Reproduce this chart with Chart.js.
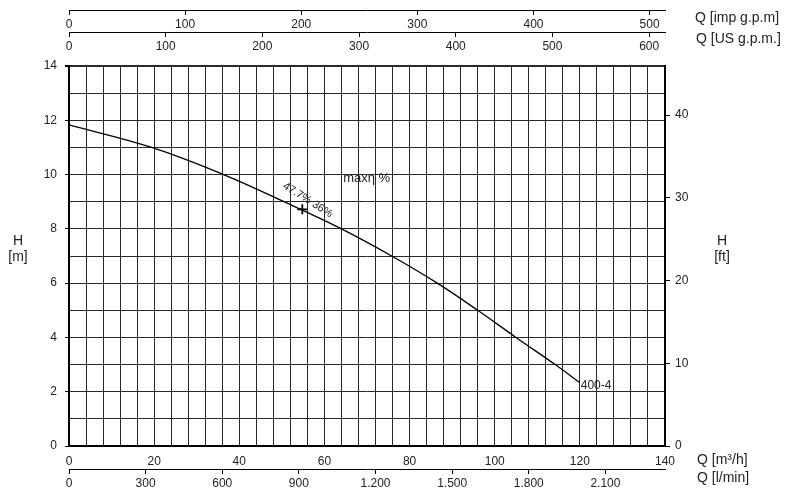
<!DOCTYPE html>
<html>
<head>
<meta charset="utf-8">
<script src="https://cdn.jsdelivr.net/npm/chart.js@4.4.1/dist/chart.umd.min.js"></script>
<style>
  html, body { margin: 0; padding: 0; background: #fff; }
  #chart { display: block; }
</style>
</head>
<body>
<canvas id="chart" width="789" height="492"></canvas>
<script>
// pump curve 400-4
const flowM3h = [0, 19.4, 36.3, 50.5, 64.0, 75.8, 86.5, 96.0, 105.0, 114.2, 120.0];
const headM   = [11.83, 11, 10, 9, 8, 7, 6, 5, 4, 3, 2.33];

// best efficiency point (the little cross)
const bepFlow = [54.8];
const bepHead = [8.72];

// tick labels
const m3hTicks  = [0, 20, 40, 60, 80, 100, 120, 140];
const mTicks    = [0, 2, 4, 6, 8, 10, 12, 14];
const ftTicks   = [0, 10, 20, 30, 40];
const impTicks  = [0, 100, 200, 300, 400, 500];
const usTicks   = [0, 100, 200, 300, 400, 500, 600];
const lminTicks = [0, 300, 600, 900, 1200, 1500, 1800, 2100];

const Q_MAX = 140, H_MAX = 14;
const FT_PER_M = 3.28084;
const IMP_PER_M3H = 3.66615;
const US_PER_M3H = 4.40287;
const LMIN_PER_M3H = 1000 / 60;

const FONT = '"Liberation Sans", Arial, sans-serif';
const tickFont = { family: FONT, size: 12 };
const INK = '#222';

const fixTicks = (values) => (scale) => {
    scale.ticks = values.map(v => ({ value: v }));
};

// dotted thousands like on the sheet: 1.200
const dotThousands = (v) => v >= 1000
    ? Math.floor(v / 1000) + '.' + String(v % 1000).padStart(3, '0')
    : String(v);

// extra flow scales, drawn as a line with labels underneath
function flowAxis(lineAt, max, values, fmt) {
    return {
        type: 'linear',
        axis: 'x',
        position: { y: lineAt },
        min: 0,
        max: max,
        afterBuildTicks: fixTicks(values),
        grid: { drawOnChartArea: false, tickLength: 4, color: '#000', lineWidth: 1 },
        border: { color: '#000', width: 1 },
        ticks: {
            padding: 3, maxRotation: 0, autoSkip: false,
            color: INK, font: tickFont,
            callback: fmt || (v => v)
        }
    };
}

const notes = [
    { text: 'maxη %', q: 64.4, h: 9.84, rot: 0, size: 13, align: 'left' },
    { text: '47.7% 36%', q: 56.1, h: 9.06, rot: 32, size: 11, align: 'center' },
    { text: '400-4', q: 120.2, h: 2.21, rot: 0, size: 12, align: 'left' }
];

const sheetText = {
    id: 'sheetText',
    afterDraw(chart) {
        const { ctx, scales: { x, y } } = chart;
        ctx.save();
        ctx.fillStyle = INK;
        ctx.textBaseline = 'middle';

        ctx.font = '14px ' + FONT;
        ctx.textAlign = 'center';
        ctx.fillText('H', 18, 241);
        ctx.fillText('[m]', 18, 257);
        ctx.fillText('H', 722, 241);
        ctx.fillText('[ft]', 722, 257);

        ctx.textAlign = 'left';
        ctx.fillText('Q [imp g.p.m]', 695, 18);
        ctx.fillText('Q [US g.p.m.]', 696, 39);
        ctx.fillText('Q [m³/h]', 697, 460);
        ctx.fillText('Q [l/min]', 697, 478);

        notes.forEach(n => {
            ctx.save();
            ctx.translate(x.getPixelForValue(n.q), y.getPixelForValue(n.h));
            ctx.rotate(n.rot * Math.PI / 180);
            ctx.font = n.size + 'px ' + FONT;
            ctx.textAlign = n.align;
            ctx.fillText(n.text, 0, 0);
            ctx.restore();
        });
        ctx.restore();
    }
};

new Chart(document.getElementById('chart'), {
    type: 'scatter',
    data: {
        datasets: [
            {
                label: '400-4',
                data: flowM3h.map((q, i) => ({ x: q, y: headM[i] })),
                showLine: true,
                borderColor: '#000',
                borderWidth: 1.3,
                pointRadius: 0,
                tension: 0.4
            },
            {
                label: 'max eff.',
                data: bepFlow.map((q, i) => ({ x: q, y: bepHead[i] })),
                pointStyle: 'cross',
                pointRadius: 5,
                borderWidth: 1.8,
                borderColor: '#000'
            }
        ]
    },
    options: {
        responsive: false,
        animation: false,
        layout: { padding: { top: 66, left: 0, right: 0, bottom: 0 } },
        plugins: { legend: { display: false }, tooltip: { enabled: false } },
        scales: {
            x: {
                type: 'linear',
                position: 'bottom',
                min: 0,
                max: Q_MAX,
                afterFit: (s) => { s.height = 46; },
                grid: { color: '#2a2a2a', lineWidth: 1, drawTicks: false },
                border: { color: '#000', width: 2 },
                ticks: {
                    stepSize: 4, padding: 8, maxRotation: 0, autoSkip: false,
                    color: INK, font: tickFont,
                    callback: v => m3hTicks.includes(v) ? v : ''
                }
            },
            y: {
                type: 'linear',
                position: 'left',
                min: 0,
                max: H_MAX,
                afterFit: (s) => { s.width = 69; },
                grid: {
                    color: '#2a2a2a',
                    lineWidth: c => (c.tick && c.tick.value === H_MAX) ? 2 : 1,
                    tickLength: 4,
                    tickColor: c => (c.tick && mTicks.includes(c.tick.value)) ? '#000' : 'rgba(0,0,0,0)'
                },
                border: { color: '#000', width: 2 },
                ticks: {
                    stepSize: 1, padding: 8, autoSkip: false,
                    color: INK, font: tickFont,
                    callback: v => mTicks.includes(v) ? v : ''
                }
            },
            yFt: {
                type: 'linear',
                axis: 'y',
                position: 'right',
                min: 0,
                max: H_MAX * FT_PER_M,
                afterFit: (s) => { s.width = 124; },
                afterBuildTicks: fixTicks(ftTicks),
                grid: { drawOnChartArea: false, tickLength: 5, color: '#000' },
                border: { color: '#000', width: 2 },
                ticks: { padding: 5, color: INK, font: tickFont }
            },
            xImp: flowAxis(16.06, Q_MAX * IMP_PER_M3H, impTicks),
            xUs: flowAxis(15.25, Q_MAX * US_PER_M3H, usTicks),
            xLmin: flowAxis(-0.85, Q_MAX * LMIN_PER_M3H, lminTicks, dotThousands)
        }
    },
    plugins: [sheetText]
});
</script>
</body>
</html>
